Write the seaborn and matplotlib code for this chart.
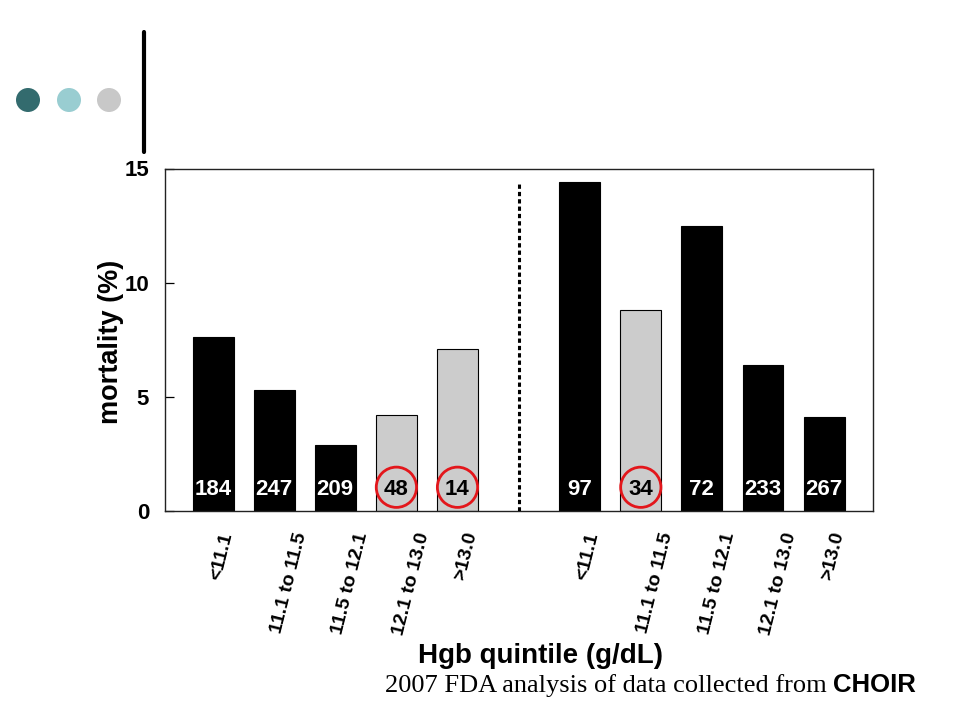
import numpy as np
import pandas as pd
import matplotlib
matplotlib.use("Agg")
import matplotlib.pyplot as plt
import seaborn as sns
from matplotlib.transforms import ScaledTranslation
from matplotlib.patches import Circle
from matplotlib.lines import Line2D

# ---------------- data ----------------
quintiles = ["<11.1", "11.1 to 11.5", "11.5 to 12.1", "12.1 to 13.0", ">13.0"]
group_a_mortality = [7.6, 5.3, 2.9, 4.2, 7.1]
group_b_mortality = [14.4, 8.8, 12.5, 6.4, 4.1]
group_a_n = [184, 247, 209, 48, 14]
group_b_n = [97, 34, 72, 233, 267]
group_a_shade = ["dark", "dark", "dark", "light", "light"]
group_b_shade = ["dark", "light", "dark", "dark", "dark"]
group_a_circled = [False, False, False, True, True]
group_b_circled = [False, True, False, False, False]
y_ticks = [0, 5, 10, 15]
x_title = "Hgb quintile (g/dL)"
y_title = "mortality (%)"
footer_main = "2007 FDA analysis of data collected from "
footer_bold = "CHOIR"

# ---------------- table ----------------
pos_a = list(range(len(quintiles)))
pos_b = [len(quintiles) + 1 + i for i in range(len(quintiles))]
sep_pos = len(quintiles)
df = pd.DataFrame({
    "pos": pos_a + pos_b,
    "mortality": group_a_mortality + group_b_mortality,
    "n": group_a_n + group_b_n,
    "shade": group_a_shade + group_b_shade,
    "circled": group_a_circled + group_b_circled,
    "label": quintiles + quintiles,
})

sns.set_style("white")
plt.rcParams["font.family"] = ["Liberation Sans", "DejaVu Sans"]
for k in ["text.color", "axes.labelcolor", "xtick.color", "ytick.color"]:
    plt.rcParams[k] = "black"

W, H = 960, 720
fig = plt.figure(figsize=(W / 100, H / 100), dpi=100)
ax_l, ax_r, ax_t, ax_b = 165, 873, 168.5, 511
ax = fig.add_axes([ax_l / W, 1 - ax_b / H, (ax_r - ax_l) / W, (ax_b - ax_t) / H])

palette = {"dark": "black", "light": "#CCCCCC"}
sns.barplot(data=df, x="pos", y="mortality", hue="shade", palette=palette,
            native_scale=True, dodge=False, width=0.67, errorbar=None,
            edgecolor="black", linewidth=0.8, legend=False, ax=ax)

# separator
ax.plot([sep_pos, sep_pos], [0, 14.45], color="black", lw=2.2,
        ls=(0, (1.4, 1.0)), solid_capstyle="butt", zorder=3)

# n labels
for _, r in df.iterrows():
    col = "white" if r["shade"] == "dark" else "black"
    ax.text(r["pos"], 0.70, str(r["n"]), ha="center", va="baseline",
            fontsize=16, fontweight="bold", color=col, zorder=6)

circ = df[df["circled"]]
ax.scatter(circ["pos"], [1.04] * len(circ), s=29 ** 2, facecolors="none",
           edgecolors="#E3161B", linewidths=2.0, zorder=7)

ax.set_xlim(-0.787, 10.80)
ax.set_ylim(0, 15)
ax.set_yticks(y_ticks)
ax.set_yticklabels([str(v) for v in y_ticks], fontsize=16, fontweight="bold")
ax.tick_params(axis="y", direction="in", length=6.5, width=0.9, pad=11.5,
               left=True, colors="black")
ax.set_xticks(df["pos"].tolist())
ax.set_xticklabels(df["label"].tolist(), rotation=76, ha="left", va="top",
                   fontsize=14, fontweight="bold", color="black")
ax.tick_params(axis="x", length=0, pad=14)
off = ScaledTranslation(-6 / 100, 0, fig.dpi_scale_trans)
for lab in ax.get_xticklabels():
    lab.set_transform(lab.get_transform() + off)

for sp in ax.spines.values():
    sp.set_visible(True)
    sp.set_color("#222222")
    sp.set_linewidth(1.0)

ax.set_xlabel(x_title, fontsize=20, fontweight="bold", va="center", color="black")
ax.xaxis.set_label_coords((540 - ax_l) / (ax_r - ax_l), -(656 - ax_b) / (ax_b - ax_t))
ax.set_ylabel(y_title, fontsize=19.5, fontweight="bold", va="center", color="black")
ax.yaxis.set_label_coords(-(ax_l - 111) / (ax_r - ax_l), 0.495)

# decorations (top-left)
deco = fig.add_axes([0, 0, 1, 1])
deco.set_xlim(0, W)
deco.set_ylim(H, 0)
deco.axis("off")
for cx, colr in [(28, "#336B6E"), (69, "#99CDD1"), (109, "#C8C8C8")]:
    deco.add_patch(Circle((cx, 100), 12, color=colr, lw=0))
deco.add_line(Line2D([144, 144], [32, 152], color="black", lw=3))

# footer
t_bold = fig.text(916 / W, 1 - 692 / H, footer_bold, ha="right", va="baseline",
                  fontsize=18.5, fontweight="bold", family=["Liberation Sans", "DejaVu Sans"])
fig.canvas.draw()
bb = t_bold.get_window_extent(renderer=fig.canvas.get_renderer())
fig.text(bb.x0 / W, 1 - 692 / H, footer_main, ha="right", va="baseline",
         fontsize=19, family=["Liberation Serif", "DejaVu Serif"])

fig.savefig("out.png", dpi=100)
